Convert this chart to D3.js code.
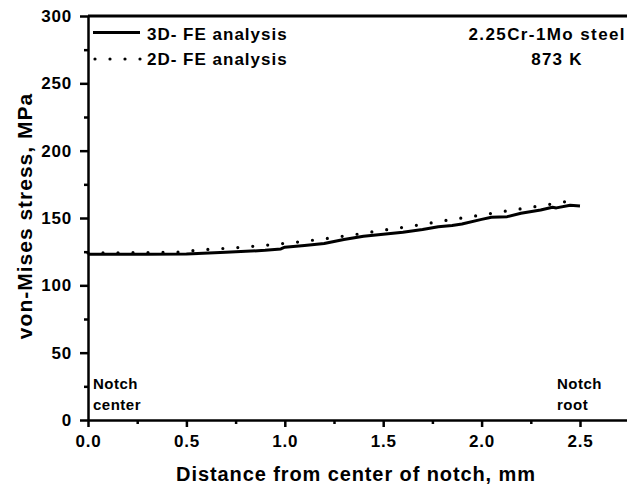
<html>
<head>
<script src="https://d3js.org/d3.v7.min.js"></script>
<style>
  body { margin: 0; background: #fff; }
  text { font-family: Arial, "Liberation Sans", sans-serif; font-weight: bold; fill: #000; }
  .axis path, .axis line { stroke: #000; stroke-width: 2.5; }
  .axis text { font-size: 17px; letter-spacing: 0.8px; }
</style>
</head>
<body>
<svg id="chart" width="627" height="484"></svg>
<script>
// 3D FE analysis (solid line)
const dist3D = [0, 0.3, 0.5, 0.7, 0.9, 0.98, 1.0, 1.1, 1.2, 1.25, 1.3, 1.4, 1.5, 1.6, 1.7, 1.78, 1.85, 1.9, 2.0, 2.05, 2.13, 2.2, 2.3, 2.36, 2.38, 2.45, 2.5];
const stress3D = [123, 123, 123.2, 124.5, 126, 127, 128.3, 129.5, 131, 132.5, 134, 136.5, 138, 139.5, 141.5, 143.5, 144.5, 145.5, 149, 150.5, 151, 153.5, 156, 158, 157.5, 159.5, 159];

// 2D FE analysis (dotted line)
const dist2D = [0, 0.45, 0.53, 0.61, 0.76, 0.92, 1.07, 1.22, 1.3, 1.37, 1.45, 1.53, 1.6, 1.68, 1.83, 1.99, 2.14, 2.3, 2.38, 2.45];
const stress2D = [124, 124.5, 125.7, 126.7, 128, 130, 132.2, 134.9, 136.6, 138, 139.8, 141.6, 143, 144.8, 148.5, 152, 155.5, 159.1, 160.9, 162.8];

const xMajor = [0, 0.5, 1.0, 1.5, 2.0, 2.5];
const xMinor = [0.25, 0.75, 1.25, 1.75, 2.25];
const yMajor = [0, 50, 100, 150, 200, 250, 300];
const yMinor = [25, 75, 125, 175, 225, 275];

const svg = d3.select("#chart");

const x = d3.scaleLinear().domain([0, 2.75]).range([88, 88 + 2.75 * 196.8]);
const y = d3.scaleLinear().domain([0, 300]).range([420, 16]);

// minor ticks
svg.append("g").attr("class", "axis")
  .attr("transform", "translate(0,420)")
  .call(d3.axisBottom(x).tickValues(xMinor).tickSize(4).tickFormat(""))
  .select(".domain").remove();
svg.append("g").attr("class", "axis")
  .attr("transform", "translate(88,0)")
  .call(d3.axisLeft(y).tickValues(yMinor).tickSize(4).tickFormat(""))
  .select(".domain").remove();

// major axes
const xAxis = svg.append("g").attr("class", "axis")
  .attr("transform", "translate(0,420)")
  .call(d3.axisBottom(x).tickValues(xMajor).tickSize(7).tickSizeOuter(0).tickPadding(7).tickFormat(d3.format(".1f")));
xAxis.selectAll("text").attr("dy", "0.75em");

svg.append("g").attr("class", "axis")
  .attr("transform", "translate(88,0)")
  .call(d3.axisLeft(y).tickValues(yMajor).tickSize(8).tickSizeOuter(0).tickPadding(8));

// top border
svg.append("line")
  .attr("x1", x(0)).attr("x2", x(2.75))
  .attr("y1", y(300)).attr("y2", y(300))
  .attr("stroke", "#000").attr("stroke-width", 3);

// axis titles
svg.append("text")
  .attr("x", 356).attr("y", 481)
  .attr("text-anchor", "middle")
  .style("font-size", "20px").style("letter-spacing", "0.9px")
  .text("Distance from center of notch, mm");

svg.append("text")
  .attr("transform", "translate(32,216) rotate(-90)")
  .attr("text-anchor", "middle")
  .style("font-size", "21px").style("letter-spacing", "1px")
  .text("von-Mises stress, MPa");

// lines
const line = d3.line().x(d => x(d[0])).y(d => y(d[1]));

svg.append("path")
  .datum(dist3D.map((d, i) => [d, stress3D[i]]))
  .attr("d", line)
  .attr("fill", "none").attr("stroke", "#000").attr("stroke-width", 3)
  .attr("stroke-linejoin", "round");

svg.append("path")
  .datum(dist2D.map((d, i) => [d, stress2D[i]]))
  .attr("d", line)
  .attr("fill", "none").attr("stroke", "#000").attr("stroke-width", 3.2)
  .attr("stroke-linecap", "round").attr("stroke-dasharray", "0 15");

// legend
svg.append("line")
  .attr("x1", 93).attr("x2", 140).attr("y1", 32.5).attr("y2", 32.5)
  .attr("stroke", "#000").attr("stroke-width", 3);
svg.append("line")
  .attr("x1", 95).attr("x2", 141).attr("y1", 59).attr("y2", 59)
  .attr("stroke", "#000").attr("stroke-width", 3.2)
  .attr("stroke-linecap", "round").attr("stroke-dasharray", "0 15");

svg.append("text").attr("x", 147).attr("y", 40)
  .style("font-size", "17px").style("letter-spacing", "1px")
  .text("3D- FE analysis");
svg.append("text").attr("x", 147).attr("y", 65)
  .style("font-size", "17px").style("letter-spacing", "1px")
  .text("2D- FE analysis");

svg.append("text").attr("x", 626).attr("y", 40)
  .attr("text-anchor", "end")
  .style("font-size", "17px").style("letter-spacing", "1.4px")
  .text("2.25Cr-1Mo steel");
svg.append("text").attr("x", 557).attr("y", 65)
  .attr("text-anchor", "middle")
  .style("font-size", "17px").style("letter-spacing", "1.2px")
  .text("873 K");

// notch annotations
svg.append("text").attr("x", 93).attr("y", 389)
  .style("font-size", "15px").style("letter-spacing", "0.5px").text("Notch");
svg.append("text").attr("x", 93).attr("y", 410)
  .style("font-size", "15px").style("letter-spacing", "0.5px").text("center");
svg.append("text").attr("x", 557).attr("y", 389)
  .style("font-size", "15px").style("letter-spacing", "0.5px").text("Notch");
svg.append("text").attr("x", 557).attr("y", 410)
  .style("font-size", "15px").style("letter-spacing", "0.5px").text("root");
</script>
</body>
</html>
